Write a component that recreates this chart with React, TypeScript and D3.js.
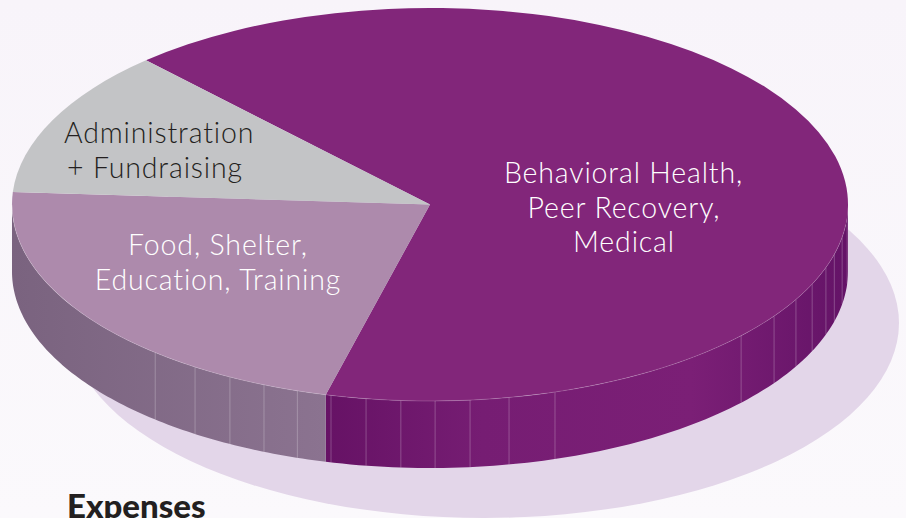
import React from "react";
import * as d3 from "d3";

const categories = ["Behavioral Health, Peer Recovery, Medical", "Food, Shelter, Education, Training", "Administration + Fundraising"];
const shares = [65.9, 22, 12.1];
const topColors = ["#82267a", "#ad8aac", "#c3c4c6"];
const firstSliceStartDeg = 317.2;
const seamDegrees = [93.6, 99.6, 104.7, 108.7, 113.9, 118.9, 124.6, 131.9, 162.6, 169.1, 174.5, 179.3, 184.0, 188.8, 193.7, 198.5, 203.4, 208.6, 214.2, 221.1];

const W = 906, H = 518;
const cx = 430, cy = 204.5, rx = 418, ry = 196.5, depth = 67;
const shadow = { cx: 484, cy: 323, rx: 415, ry: 195 };
const font = "Lato, 'Open Sans', sans-serif";

const rad = (d: number) => (d * Math.PI) / 180;
const px = (a: number) => cx + rx * Math.sin(a);
const py = (a: number) => cy - ry * Math.cos(a);

const pie = d3.pie<number>().sort(null).startAngle(rad(firstSliceStartDeg)).endAngle(rad(firstSliceStartDeg + 360));
const slices = pie(shares);
const arc = d3.arc<d3.PieArcDatum<number>>().innerRadius(0).outerRadius(rx);

function sidePath(from: number, to: number) {
  const n = 90;
  const angles = d3.range(n + 1).map((i) => from + ((to - from) * i) / n);
  return d3.area<number>().x(px).y0(py).y1((a) => py(a) + depth)(angles) as string;
}
function rimPath(from: number, to: number) {
  const n = 90;
  const angles = d3.range(n + 1).map((i) => from + ((to - from) * i) / n);
  return d3.line<number>().x(px).y(py)(angles) as string;
}

const mod = (a: number) => ((a % (2 * Math.PI)) + 2 * Math.PI) % (2 * Math.PI);
const purpleEnd = mod(slices[0].endAngle);
const lightEnd = rad(270);

export default function App() {
  return (
    <svg width={W} height={H} viewBox={`0 0 ${W} ${H}`} style={{ position: "absolute", left: 0, top: 0 }}>
      <defs>
        <linearGradient id="bg" x1="0" x2="0" y1="0" y2="1">
          <stop offset="0" stopColor="#f8f4fa" />
          <stop offset="1" stopColor="#fbf9fc" />
        </linearGradient>
        <linearGradient id="sidePurple" gradientUnits="userSpaceOnUse" x1={326} x2={848} y1={0} y2={0}>
          <stop offset="0" stopColor="#661265" />
          <stop offset="0.3" stopColor="#761d73" />
          <stop offset="0.7" stopColor="#7b1f76" />
          <stop offset="1" stopColor="#641367" />
        </linearGradient>
        <linearGradient id="sideLight" gradientUnits="userSpaceOnUse" x1={12} x2={326} y1={0} y2={0}>
          <stop offset="0" stopColor="#7a637f" />
          <stop offset="1" stopColor="#8b7390" />
        </linearGradient>
      </defs>
      <rect width={W} height={H} fill="url(#bg)" />
      <ellipse cx={shadow.cx} cy={shadow.cy} rx={shadow.rx} ry={shadow.ry} fill="#e3d6e9" />

      <path d={sidePath(rad(90), purpleEnd)} fill="url(#sidePurple)" />
      <path d={sidePath(purpleEnd, lightEnd)} fill="url(#sideLight)" />
      {seamDegrees.map((d) => (
        <line key={d} x1={px(rad(d))} x2={px(rad(d))} y1={py(rad(d))} y2={py(rad(d)) + depth}
          stroke="#ffffff" strokeOpacity={0.24} strokeWidth={1} />
      ))}

      <g transform={`translate(${cx},${cy}) scale(1,${ry / rx})`}>
        {slices.map((s, i) => (
          <path key={categories[i]} d={arc(s) as string} fill={topColors[i]} />
        ))}
      </g>
      <path d={rimPath(rad(96), lightEnd)} fill="none" stroke="#ffffff" strokeOpacity={0.22} strokeWidth={0.8} />

      <g fontFamily={font} fontWeight={300} fontSize={28.5} letterSpacing={0.85} fill="#ffffff" textAnchor="middle">
        <text x={623.5} y={183}>Behavioral Health,</text>
        <text x={624} y={218}>Peer Recovery,</text>
        <text x={624} y={252}>Medical</text>
        <text x={218} y={255}>Food, Shelter,</text>
        <text x={218} y={290}>Education, Training</text>
      </g>
      <g fontFamily={font} fontWeight={300} fontSize={28.5} letterSpacing={0.85} fill="#231f20">
        <text x={64} y={143}>Administration</text>
        <text x={67} y={178}>+ Fundraising</text>
      </g>
      <text x={67} y={518} fontFamily={font} fontWeight={900} fontSize={33} fill="#231f20">Expenses</text>
    </svg>
  );
}
